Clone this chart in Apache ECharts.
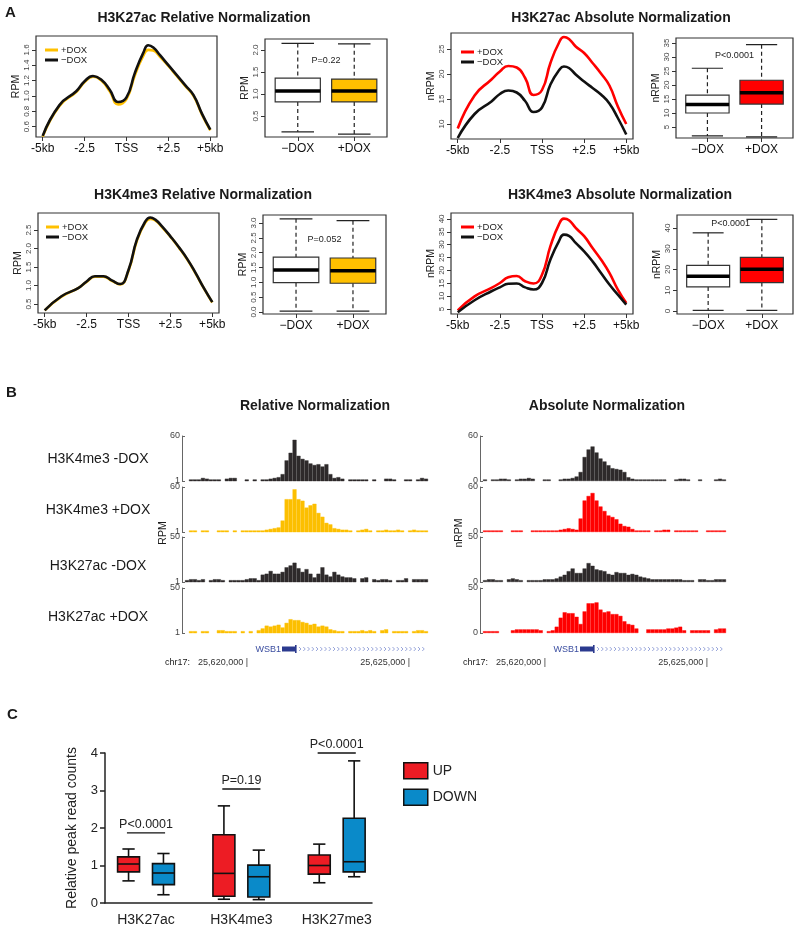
<!DOCTYPE html>
<html>
<head>
<meta charset="utf-8">
<script src="https://cdn.jsdelivr.net/npm/echarts@6/dist/echarts.min.js"></script>
<style>
html, body { margin: 0; padding: 0; background: #fff; }
#chart { width: 800px; height: 931px; }
</style>
</head>
<body>
<div id="chart"></div>
<script>
var FONT = 'Liberation Sans, Arial, Helvetica, sans-serif';

// ---- panel A: average profiles around TSS (kb) ----
var kbPos = [-5, -4, -3, -2.5, -2, -1.5, -1, -0.5, 0, 0.5, 1, 1.3, 1.6, 2, 2.5, 3, 3.5, 4, 4.5, 5];
var kbTicks = [-5, -2.5, 0, 2.5, 5];
var kbLabels = ['-5kb', '-2.5', 'TSS', '+2.5', '+5kb'];

var k27RelMinus = [0.48, 0.88, 1.06, 1.19, 1.26, 1.21, 1.08, 0.92, 0.98, 1.30, 1.56, 1.66, 1.63, 1.53, 1.40, 1.27, 1.14, 1.01, 0.77, 0.56];
var k27RelPlus  = [0.47, 0.87, 1.05, 1.18, 1.25, 1.20, 1.06, 0.89, 0.96, 1.27, 1.52, 1.60, 1.59, 1.51, 1.39, 1.26, 1.13, 1.00, 0.76, 0.55];
var k27AbsMinus = [7.2, 12.0, 14.5, 16.0, 16.7, 16.3, 14.6, 12.4, 13.3, 17.9, 20.7, 21.5, 21.2, 19.9, 18.5, 17.2, 15.9, 14.1, 11.2, 7.9];
var k27AbsPlus  = [9.1, 15.7, 18.9, 20.5, 21.6, 21.3, 19.2, 15.8, 16.8, 22.2, 26.2, 27.4, 27.0, 25.5, 24.2, 22.2, 20.1, 17.7, 13.5, 10.0];
var k4RelMinus  = [0.33, 0.71, 0.93, 1.11, 1.25, 1.25, 1.14, 1.04, 1.42, 2.24, 2.73, 2.84, 2.78, 2.60, 2.33, 2.04, 1.72, 1.34, 0.93, 0.55];
var k4RelPlus   = [0.33, 0.70, 0.93, 1.10, 1.24, 1.24, 1.13, 1.03, 1.40, 2.21, 2.70, 2.80, 2.76, 2.58, 2.32, 2.03, 1.71, 1.33, 0.92, 0.54];
var k4AbsMinus  = [3.7, 8.4, 11.9, 13.4, 14.8, 14.9, 13.4, 12.6, 15.1, 24.2, 31.3, 33.9, 33.4, 30.7, 27.4, 23.5, 19.0, 14.5, 10.6, 6.7];
var k4AbsPlus   = [4.5, 9.9, 13.2, 15.1, 17.3, 17.8, 15.8, 14.9, 18.3, 29.4, 37.8, 40.1, 39.5, 36.5, 33.3, 28.7, 24.2, 19.0, 12.5, 7.3];

// boxplots: [min, q1, median, q3, max] for -DOX, +DOX
var doxGroups = ['\u2212DOX', '+DOX'];
var k27RelBox = [[0.14, 0.82, 1.07, 1.36, 2.15], [0.09, 0.82, 1.07, 1.34, 2.14]];
var k27AbsBox = [[1.8, 10.0, 13.0, 16.4, 26.0], [1.5, 13.2, 17.2, 21.7, 34.4]];
var k4RelBox  = [[0.03, 0.99, 1.42, 1.85, 3.14], [0.03, 0.97, 1.39, 1.82, 3.08]];
var k4AbsBox  = [[0.3, 11.6, 16.7, 22.0, 37.7], [0.3, 13.7, 20.1, 25.9, 44.2]];
var pLabels = ['P=0.22', 'P<0.0001', 'P=0.052', 'P<0.0001'];

// ---- panel B: browser tracks (61 bins across chr17 window) ----
var winStart = 25618056, winEnd = 25625555;
var coordTicks = [25620000, 25625000];
var gene = { name: 'WSB1', exonStart: 25621049, exonEnd: 25621481, txEnd: 25626500 };
var trackLabels = ['H3K4me3 -DOX', 'H3K4me3 +DOX', 'H3K27ac -DOX', 'H3K27ac +DOX'];

var relK4Minus = [null,3,3,3,5,4,3,3,3,null, 4,5,5,null,null,3,null,3,null,3, 3,4,5,6,10,28,38,55,34,30, 28,24,22,23,20,23,10,5,6,4, null,3,3,3,3,3,null,3,null,null, 4,4,3,null,null,3,3,null,3,5,4];
var relK4Plus  = [null,3,3,null,3,3,null,null,3,3, 3,null,3,null,3,3,3,3,3,3, 4,5,6,7,16,44,44,57,44,42, 33,36,38,26,21,13,11,6,5,4, 4,3,null,3,4,5,3,null,3,3, 4,3,3,4,3,null,3,4,3,3,3];
var relK27Minus = [3,4,4,3,4,null,3,4,4,3, null,3,3,3,3,4,5,5,3,9, 10,13,10,10,12,17,19,22,16,12, 15,10,6,10,17,9,7,12,9,7, 6,6,5,null,5,6,null,4,3,4, 4,3,null,3,3,5,null,4,4,4,4];
var relK27Plus = [null,3,3,null,3,3,null,null,4,4, 3,3,3,null,3,null,3,null,4,6, 9,8,9,10,7,12,16,15,15,13, 12,10,11,8,9,8,5,4,3,3, null,3,3,3,4,3,4,3,null,4, 5,null,3,3,3,3,null,3,4,4,3];
var absK4Minus = [2,null,2,2,3,3,2,null,2,3, 3,4,3,null,null,2,2,null,null,2, 3,3,4,6,12,32,42,46,38,30, 26,21,17,16,15,12,5,3,2,2, 2,2,2,2,2,2,null,null,2,3, 3,2,null,null,2,null,null,null,2,3,2];
var absK4Plus  = [2,2,2,2,2,null,null,2,2,2, null,null,2,2,2,2,2,2,2,3, 4,5,4,3,18,42,48,52,42,34, 28,22,20,17,11,8,7,4,2,2, 2,2,null,2,2,3,3,null,2,2, 2,2,2,2,null,null,2,2,2,2,2];
var absK27Minus = [2,3,3,2,2,null,3,4,3,2, null,2,2,2,2,3,3,3,4,6, 8,12,15,10,10,15,21,18,14,13, 12,9,8,11,10,10,8,9,8,6, 5,4,3,3,3,3,3,3,3,3, 2,2,2,null,3,3,2,2,3,3,3];
var absK27Plus = [2,2,2,2,null,null,null,3,4,4, 4,4,4,4,3,null,2,3,7,17, 23,22,22,18,10,24,33,33,34,26, 23,24,21,21,19,13,10,9,5,null, null,4,4,4,4,4,5,5,6,7, 3,null,3,3,3,3,3,null,4,5,5];

// ---- panel C: relative peak read counts ----
var marks = ['H3K27ac', 'H3K4me3', 'H3K27me3'];
var upBox   = [[0.59, 0.83, 1.04, 1.23, 1.44], [0.10, 0.18, 0.79, 1.82, 2.59], [0.54, 0.77, 1.00, 1.28, 1.57]];
var downBox = [[0.22, 0.49, 0.80, 1.05, 1.32], [0.09, 0.16, 0.70, 1.01, 1.41], [0.70, 0.83, 1.10, 2.26, 3.79]];
var sigY = [1.87, 3.04, 4.0];
var sigText = ['P<0.0001', 'P=0.19', 'P<0.0001'];

var grids = [], xAxes = [], yAxes = [], series = [], legends = [];
var legendNames = {};

function addGrid(g) {
  grids.push(g);
  return grids.length - 1;
}

function frameGrid(l, t, w, h) {
  return addGrid({ left: l, top: t, width: w, height: h, show: true, borderColor: '#333', borderWidth: 1.2 });
}

function yAxisR(gi, min, max, ticks, digits, name) {
  return {
    gridIndex: gi, type: 'value', min: min, max: max,
    name: name, nameLocation: 'middle', nameGap: 14, nameRotate: 90,
    nameTextStyle: { fontSize: 10.5, color: '#222' },
    axisLine: { show: false, onZero: false },
    axisTick: { show: true, length: 4, customValues: ticks, lineStyle: { color: '#333' } },
    axisLabel: { customValues: ticks, rotate: 90, fontSize: 8, color: '#444', margin: 5,
      formatter: function (v) { return v.toFixed(digits); } },
    splitLine: { show: false }
  };
}

function profileChart(box, yMin, yMax, yTicks, digits, yName, plus, minus, plusColor, key, legendAt) {
  var gi = frameGrid(box[0], box[1], box[2], box[3]);
  xAxes.push({
    gridIndex: gi, type: 'value', min: -5.4, max: 5.4,
    axisLine: { show: false, onZero: false },
    axisTick: { show: true, length: 4, customValues: kbTicks, lineStyle: { color: '#333' } },
    axisLabel: { customValues: kbTicks, fontSize: 12, color: '#111', margin: 6,
      formatter: function (v) { return kbLabels[kbTicks.indexOf(v)]; } },
    splitLine: { show: false }
  });
  yAxes.push(yAxisR(gi, yMin, yMax, yTicks, digits, yName));
  var pName = key + '_plus', mName = key + '_minus';
  legendNames[pName] = '+DOX';
  legendNames[mName] = '\u2212DOX';
  series.push({
    name: pName, type: 'line', xAxisIndex: gi, yAxisIndex: gi, smooth: 0.5, symbol: 'none',
    data: kbPos.map(function (x, i) { return [x, plus[i]]; }),
    lineStyle: { color: plusColor, width: 2.6 }, itemStyle: { color: plusColor }
  });
  series.push({
    name: mName, type: 'line', xAxisIndex: gi, yAxisIndex: gi, smooth: 0.5, symbol: 'none',
    data: kbPos.map(function (x, i) { return [x, minus[i]]; }),
    lineStyle: { color: '#111', width: 2.6 }, itemStyle: { color: '#111' }
  });
  legends.push({
    left: legendAt[0], top: legendAt[1], orient: 'vertical', icon: 'rect',
    itemWidth: 13, itemHeight: 3, itemGap: 0, selectedMode: false,
    data: [pName, mName],
    formatter: function (n) { return legendNames[n]; },
    textStyle: { fontSize: 9.5, color: '#222', padding: [0, 0, 0, -2] }
  });
}

function renderRBox(params, api) {
  var x = api.value(0);
  var lo = api.coord([x, api.value(1)]), q1 = api.coord([x, api.value(2)]);
  var md = api.coord([x, api.value(3)]), q3 = api.coord([x, api.value(4)]);
  var hi = api.coord([x, api.value(5)]);
  var w = api.size([0.8, 0])[0], cx = lo[0], c = w * 0.36;
  var dash = { stroke: '#222', lineWidth: 1.2, lineDash: [4, 3] };
  var solid = { stroke: '#222', lineWidth: 1.2 };
  return {
    type: 'group', children: [
      { type: 'line', shape: { x1: cx, y1: hi[1], x2: cx, y2: q3[1] }, style: dash },
      { type: 'line', shape: { x1: cx, y1: q1[1], x2: cx, y2: lo[1] }, style: dash },
      { type: 'line', shape: { x1: cx - c, y1: hi[1], x2: cx + c, y2: hi[1] }, style: solid },
      { type: 'line', shape: { x1: cx - c, y1: lo[1], x2: cx + c, y2: lo[1] }, style: solid },
      { type: 'rect', shape: { x: cx - w / 2, y: q3[1], width: w, height: q1[1] - q3[1] },
        style: { fill: api.visual('color'), stroke: '#333', lineWidth: 1.2 } },
      { type: 'line', shape: { x1: cx - w / 2, y1: md[1], x2: cx + w / 2, y2: md[1] },
        style: { stroke: '#000', lineWidth: 3.5 } }
    ]
  };
}

function boxChart(box, yMin, yMax, yTicks, digits, yName, stats, fillColor, pIdx, pPos) {
  var gi = frameGrid(box[0], box[1], box[2], box[3]);
  xAxes.push({
    gridIndex: gi, type: 'value', min: 0.42, max: 2.58,
    axisLine: { show: false, onZero: false },
    axisTick: { show: true, length: 4, customValues: [1, 2], lineStyle: { color: '#333' } },
    axisLabel: { customValues: [1, 2], fontSize: 12, color: '#111', margin: 6,
      formatter: function (v) { return doxGroups[v - 1]; } },
    splitLine: { show: false }
  });
  yAxes.push(yAxisR(gi, yMin, yMax, yTicks, digits, yName));
  var fills = ['#ffffff', fillColor];
  series.push({
    type: 'custom', xAxisIndex: gi, yAxisIndex: gi, renderItem: renderRBox,
    data: stats.map(function (s, i) { return { value: [i + 1].concat(s), itemStyle: { color: fills[i] } }; })
  });
  series.push({
    type: 'custom', xAxisIndex: gi, yAxisIndex: gi,
    data: [pPos],
    renderItem: function (params, api) {
      var p = api.coord([api.value(0), api.value(1)]);
      return { type: 'text', style: { text: pLabels[pIdx], x: p[0], y: p[1], align: 'center',
        verticalAlign: 'middle', fontSize: 9, fontFamily: FONT, fill: '#222' } };
    }
  });
}

var YEL = '#ffc000', RED = '#ff0000';

profileChart([36, 36, 181, 101], 0.465, 1.78, [0.6, 0.8, 1.0, 1.2, 1.4, 1.6], 1, 'RPM',
  k27RelPlus, k27RelMinus, YEL, 'k27rel', [40, 40]);
boxChart([265, 39, 122, 98], 0.023, 2.25, [0.5, 1.0, 1.5, 2.0], 1, 'RPM', k27RelBox, YEL, 0, [1.5, 1.77]);
profileChart([451, 33, 182, 106], 7.0, 28.2, [10, 15, 20, 25], 0, 'nRPM',
  k27AbsPlus, k27AbsMinus, RED, 'k27abs', [456, 42]);
boxChart([676, 38, 117, 100], 1.07, 36.8, [5, 10, 15, 20, 25, 30, 35], 0, 'nRPM', k27AbsBox, RED, 1, [1.5, 30.7]);

profileChart([38, 213, 181, 100], 0.257, 2.96, [0.5, 1.0, 1.5, 2.0, 2.5], 1, 'RPM',
  k4RelPlus, k4RelMinus, YEL, 'k4rel', [41, 217]);
boxChart([263, 215, 123, 99], -0.067, 3.27, [0, 0.5, 1, 1.5, 2, 2.5, 3], 1, 'RPM', k4RelBox, YEL, 2, [1.5, 2.43]);
profileChart([451, 213, 182, 101], 3.06, 42.3, [5, 10, 15, 20, 25, 30, 35, 40], 0, 'nRPM',
  k4AbsPlus, k4AbsMinus, RED, 'k4abs', [456, 217]);
boxChart([677, 215, 116, 99], -1.45, 46.3, [0, 10, 20, 30, 40], 0, 'nRPM', k4AbsBox, RED, 3, [1.42, 42.4]);

// ---- panel B tracks ----
var binIdx = relK4Minus.map(function (v, i) { return i; });
var trackTops = [436, 487, 537, 588];
var TRACK_BLACK = '#2e2a2b', TRACK_YEL = '#fcbf00';

function track(left, top, yMin, yMax, data, color) {
  var gi = addGrid({ left: left, top: top, width: 243, height: 45 });
  xAxes.push({ gridIndex: gi, type: 'category', data: binIdx, show: false, boundaryGap: true });
  yAxes.push({
    gridIndex: gi, type: 'value', min: yMin, max: yMax, offset: 3,
    axisLine: { show: true, onZero: false, lineStyle: { color: '#666', width: 1 } },
    axisTick: { show: true, inside: true, length: 3, customValues: [yMin, yMax], lineStyle: { color: '#666' } },
    axisLabel: { customValues: [yMin, yMax], fontSize: 9, color: '#444', margin: 2 },
    splitLine: { show: false }
  });
  series.push({
    type: 'bar', xAxisIndex: gi, yAxisIndex: gi, data: data,
    barCategoryGap: '0%', barGap: '0%',
    itemStyle: { color: color, borderColor: color, borderWidth: 0.4 }
  });
}

var relTracks = [relK4Minus, relK4Plus, relK27Minus, relK27Plus];
var absTracks = [absK4Minus, absK4Plus, absK27Minus, absK27Plus];
var trackMax = [60, 60, 50, 50];
relTracks.forEach(function (d, i) {
  track(185, trackTops[i], 1, trackMax[i], d, i % 2 ? TRACK_YEL : TRACK_BLACK);
});
absTracks.forEach(function (d, i) {
  track(483, trackTops[i], 0, trackMax[i], d, i % 2 ? RED : TRACK_BLACK);
});

function renderGene(params, api) {
  var s = api.coord([api.value(0), 0.5]);
  var e = api.coord([api.value(1), 0.5]);
  var t = api.coord([Math.min(api.value(2), winEnd), 0.5]);
  var kids = [
    { type: 'rect', shape: { x: s[0], y: s[1] - 2.5, width: e[0] - s[0], height: 5 }, style: { fill: '#2b3a8f' } },
    { type: 'rect', shape: { x: e[0] - 1, y: s[1] - 4, width: 1.6, height: 8 }, style: { fill: '#2b3a8f' } },
    { type: 'text', style: { text: gene.name, x: s[0] - 1, y: s[1] + 0.5, align: 'right', verticalAlign: 'middle',
      fontSize: 9, fontFamily: FONT, fill: '#3b4ea0' } }
  ];
  for (var x = e[0] + 3; x < t[0] - 2; x += 4.25) {
    kids.push({ type: 'polyline', shape: { points: [[x, s[1] - 2], [x + 2, s[1]], [x, s[1] + 2]] },
      style: { stroke: '#7f8fd0', lineWidth: 0.8, fill: null } });
  }
  return { type: 'group', children: kids };
}

[185, 483].forEach(function (left) {
  var gi = addGrid({ left: left, top: 643, width: 243, height: 12 });
  xAxes.push({
    gridIndex: gi, type: 'value', min: winStart, max: winEnd,
    axisLine: { show: false, onZero: false }, axisTick: { show: false }, splitLine: { show: false },
    axisLabel: { customValues: coordTicks, align: 'right', fontSize: 9, color: '#333', margin: 3,
      formatter: function (v) { return v.toLocaleString('en-US') + ' |'; } }
  });
  yAxes.push({ gridIndex: gi, type: 'value', min: 0, max: 1, show: false });
  series.push({
    type: 'custom', xAxisIndex: gi, yAxisIndex: gi, renderItem: renderGene,
    data: [[gene.exonStart, gene.exonEnd, gene.txEnd]]
  });
});

// ---- panel C ----
var UP_COL = '#ed1c24', DOWN_COL = '#0a8ac9', OFF = 0.183;
var giC = addGrid({ left: 105, top: 753, width: 267, height: 150 });
xAxes.push({
  gridIndex: giC, type: 'value', min: -0.43, max: 2.37,
  axisLine: { show: true, onZero: false, lineStyle: { color: '#222', width: 1.5 } },
  axisTick: { show: false }, splitLine: { show: false },
  axisLabel: { customValues: [0, 1, 2], fontSize: 14, color: '#222', margin: 10,
    formatter: function (v) { return marks[v]; } }
});
yAxes.push({
  gridIndex: giC, type: 'value', min: 0, max: 4, interval: 1,
  name: 'Relative peak read counts', nameLocation: 'middle', nameGap: 26, nameRotate: 90,
  nameTextStyle: { fontSize: 14, color: '#222' },
  axisLine: { show: true, onZero: false, lineStyle: { color: '#222', width: 1.5 } },
  axisTick: { show: true, length: 5, lineStyle: { color: '#222', width: 1.5 } },
  axisLabel: { fontSize: 13, color: '#222', margin: 7 },
  splitLine: { show: false }
});

function renderPrismBox(params, api) {
  var x = api.value(0);
  var lo = api.coord([x, api.value(1)]), q1 = api.coord([x, api.value(2)]);
  var md = api.coord([x, api.value(3)]), q3 = api.coord([x, api.value(4)]);
  var hi = api.coord([x, api.value(5)]);
  var w = api.size([0.23, 0])[0], cx = lo[0], c = w * 0.28;
  var st = { stroke: '#111', lineWidth: 1.6 };
  return {
    type: 'group', children: [
      { type: 'line', shape: { x1: cx, y1: hi[1], x2: cx, y2: q3[1] }, style: st },
      { type: 'line', shape: { x1: cx, y1: q1[1], x2: cx, y2: lo[1] }, style: st },
      { type: 'line', shape: { x1: cx - c, y1: hi[1], x2: cx + c, y2: hi[1] }, style: st },
      { type: 'line', shape: { x1: cx - c, y1: lo[1], x2: cx + c, y2: lo[1] }, style: st },
      { type: 'rect', shape: { x: cx - w / 2, y: q3[1], width: w, height: q1[1] - q3[1] },
        style: { fill: api.visual('color'), stroke: '#111', lineWidth: 1.6 } },
      { type: 'line', shape: { x1: cx - w / 2, y1: md[1], x2: cx + w / 2, y2: md[1] }, style: st }
    ]
  };
}

series.push({
  name: 'UP', type: 'custom', xAxisIndex: giC, yAxisIndex: giC, renderItem: renderPrismBox,
  itemStyle: { color: UP_COL },
  data: upBox.map(function (s, i) { return [i - OFF].concat(s); })
});
series.push({
  name: 'DOWN', type: 'custom', xAxisIndex: giC, yAxisIndex: giC, renderItem: renderPrismBox,
  itemStyle: { color: DOWN_COL },
  data: downBox.map(function (s, i) { return [i + OFF].concat(s); })
});
series.push({
  type: 'custom', xAxisIndex: giC, yAxisIndex: giC,
  data: sigY.map(function (y, i) { return [i, y]; }),
  renderItem: function (params, api) {
    var a = api.coord([api.value(0) - 0.2, api.value(1)]);
    var b = api.coord([api.value(0) + 0.2, api.value(1)]);
    return { type: 'group', children: [
      { type: 'line', shape: { x1: a[0], y1: a[1], x2: b[0], y2: b[1] }, style: { stroke: '#111', lineWidth: 1.3 } },
      { type: 'text', style: { text: sigText[params.dataIndex], x: (a[0] + b[0]) / 2, y: a[1] - 8,
        align: 'center', verticalAlign: 'middle', fontSize: 12.5, fontFamily: FONT, fill: '#222' } }
    ] };
  }
});
legends.push({
  left: 398, top: 757, orient: 'vertical', icon: 'rect', itemWidth: 24, itemHeight: 16, itemGap: 9,
  selectedMode: false, data: ['UP', 'DOWN'],
  itemStyle: { borderColor: '#111', borderWidth: 1.5 },
  textStyle: { fontSize: 14, color: '#222' }
});

// ---- texts ----
function txt(x, y, s, font, align, rot) {
  return { type: 'text', x: x, y: y, rotation: rot || 0,
    style: { text: s, font: font, fill: '#1a1a1a', align: align || 'center', verticalAlign: 'middle' } };
}
var B14 = 'bold 14px ' + FONT, L = 'bold 15px ' + FONT;
var texts = [
  txt(5, 13, 'A', L, 'left'), txt(6, 393, 'B', L, 'left'), txt(7, 715, 'C', L, 'left'),
  txt(204, 18, 'H3K27ac Relative Normalization', B14),
  txt(621, 18, 'H3K27ac Absolute Normalization', B14),
  txt(203, 195, 'H3K4me3 Relative Normalization', B14),
  txt(620, 195, 'H3K4me3 Absolute Normalization', B14),
  txt(315, 406, 'Relative Normalization', B14),
  txt(607, 406, 'Absolute Normalization', B14),
  txt(163, 533, 'RPM', '10.5px ' + FONT, 'center', Math.PI / 2),
  txt(459, 533, 'nRPM', '10.5px ' + FONT, 'center', Math.PI / 2),
  txt(165, 663, 'chr17:', '9px ' + FONT, 'left'),
  txt(463, 663, 'chr17:', '9px ' + FONT, 'left')
];
var labelY = [459, 510, 566, 617];
trackLabels.forEach(function (s, i) { texts.push(txt(98, labelY[i], s, '14px ' + FONT)); });

var myChart = echarts.init(document.getElementById('chart'));
myChart.setOption({
  animation: false,
  textStyle: { fontFamily: FONT },
  grid: grids,
  xAxis: xAxes,
  yAxis: yAxes,
  legend: legends,
  series: series,
  graphic: texts
});
</script>
</body>
</html>
